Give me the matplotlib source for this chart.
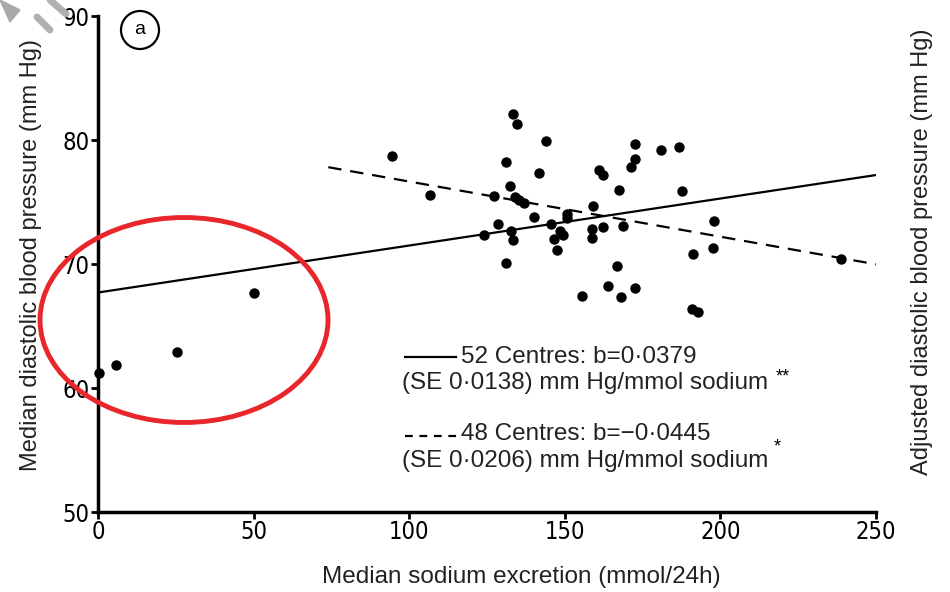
"""
Scatter of median diastolic blood pressure vs median sodium excretion
(52 centres), with the two regression lines and the highlighted low-sodium
centres circled in red.
"""

import matplotlib
matplotlib.use("Agg")
import matplotlib.pyplot as plt
from matplotlib.patches import Ellipse, Circle, Polygon

plt.rcParams['font.family'] = ['Liberation Sans', 'DejaVu Sans']

# Data
sodium = [0.3, 5.8, 25.4, 50.1, 94.4, 106.7, 133.5, 134.6, 143.9, 131.1,
          141.7, 132.4, 127.4, 134.0, 135.4, 136.9, 140.1, 128.4, 124.0, 132.7,
          133.2, 131.1, 172.6, 180.8, 186.8, 172.6, 171.4, 160.9, 162.4, 167.3,
          187.7, 159.1, 150.6, 150.6, 197.9, 145.5, 148.4, 149.5, 146.5, 147.4,
          162.4, 158.7, 158.7, 168.7, 197.7, 191.3, 238.7, 166.7, 164.0, 172.4,
          155.4, 168.0, 190.8, 192.9]
diastolic = [61.2, 61.85, 62.9, 67.7, 78.7, 75.6, 82.1, 81.3, 79.9, 78.2,
             77.3, 76.3, 75.5, 75.4, 75.2, 74.9, 73.8, 73.2, 72.3, 72.7,
             71.9, 70.1, 79.7, 79.2, 79.4, 78.5, 77.8, 77.6, 77.2, 76.0,
             75.9, 74.7, 74.0, 73.7, 73.5, 73.2, 72.7, 72.3, 72.0, 71.1,
             73.0, 72.8, 72.1, 73.1, 71.3, 70.8, 70.4, 69.8, 68.2, 68.1,
             67.4, 67.3, 66.4, 66.1]

# regression lines: (x start, x end, intercept, slope)
fit_52 = (0, 250, 67.7, 0.0379)
fit_48 = (74, 250, 81.1, -0.0445)

x_ticks = [0, 50, 100, 150, 200, 250]
y_ticks = [50, 60, 70, 80, 90]

legend_52 = ["52 Centres: b=0\u00b70379", "(SE 0\u00b70138) mm Hg/mmol sodium", "**"]
legend_48 = ["48 Centres: b=\u22120\u00b70445", "(SE 0\u00b70206) mm Hg/mmol sodium", "*"]


def line_points(fit):
    x0, x1, a, b = fit
    return [x0, x1], [a + b * x0, a + b * x1]


fig = plt.figure(figsize=(9.5, 5.92), dpi=100)
ax = fig.add_axes([98 / 950, 80 / 592, 778 / 950, 496 / 592])

ax.scatter(sodium, diastolic, s=42, color='black', zorder=3, clip_on=False)

lx, ly = line_points(fit_52)
ax.plot(lx, ly, color='black', linewidth=1.6)
lx, ly = line_points(fit_48)
ax.plot(lx, ly, color='black', linewidth=1.6, linestyle=(0, (6, 4)))

ax.set_xlim(0, 250)
ax.set_ylim(50, 90)
ax.set_xticks(x_ticks)
ax.set_yticks(y_ticks)
for lab in ax.get_xticklabels() + ax.get_yticklabels():
    lab.set_family('DejaVu Sans')
    lab.set_stretch('condensed')
    lab.set_fontsize(17)
ax.tick_params(direction='out', length=5, width=2, pad=1, colors='black')

for side in ['top', 'right']:
    ax.spines[side].set_visible(False)
for side in ['left', 'bottom']:
    ax.spines[side].set_linewidth(2.5)

# overlay in pixel coordinates for labels and annotations
ov = fig.add_axes([0, 0, 1, 1], facecolor='none')
ov.set_xlim(0, 950)
ov.set_ylim(592, 0)
ov.axis('off')

ov.text(521, 577, "Median sodium excretion (mmol/24h)", ha='center', va='center',
        fontsize=17.5, color='#222222')
ov.text(31, 255, "Median diastolic blood pressure (mm Hg)", rotation=90,
        ha='center', va='center', fontsize=17, color='#222222')
ov.text(922, 252, "Adjusted diastolic blood pressure (mm Hg)", rotation=90,
        ha='center', va='center', fontsize=17, color='#222222')

# legend block
ov.plot([405, 456], [357, 357], color='black', linewidth=1.6)
ov.text(461, 357, legend_52[0], ha='left', va='center', fontsize=17.5, color='#222222')
ov.text(402, 383, legend_52[1], ha='left', va='center', fontsize=17.5, color='#222222')
ov.text(776, 377, legend_52[2], ha='left', va='center', fontsize=13)
ov.plot([405, 456], [436, 436], color='black', linewidth=1.6, linestyle=(0, (3.5, 3)))
ov.text(461, 434, legend_48[0], ha='left', va='center', fontsize=17.5, color='#222222')
ov.text(402, 461, legend_48[1], ha='left', va='center', fontsize=17.5, color='#222222')
ov.text(774, 447, legend_48[2], ha='left', va='center', fontsize=13)

# panel label
ov.add_patch(Circle((140, 30), 19, fill=False, edgecolor='black', linewidth=1.6))
ov.text(140, 30, "a", ha='center', va='center', fontsize=14)

# red ellipse highlight
ov.add_patch(Ellipse((184, 320), 288, 205, fill=False, edgecolor='#e8262b', linewidth=3.5))

# cursor icon remnant at top-left
ov.add_patch(Polygon([[0, 0], [20, 10], [10, 22]], closed=True, color='#a9a9a9'))
ov.plot([37, 50], [17, 30], color='#b0b0b0', linewidth=5, solid_capstyle='round')
ov.plot([50, 66], [0, 14], color='#b0b0b0', linewidth=5, solid_capstyle='round')

fig.savefig('out.png', dpi=100)
